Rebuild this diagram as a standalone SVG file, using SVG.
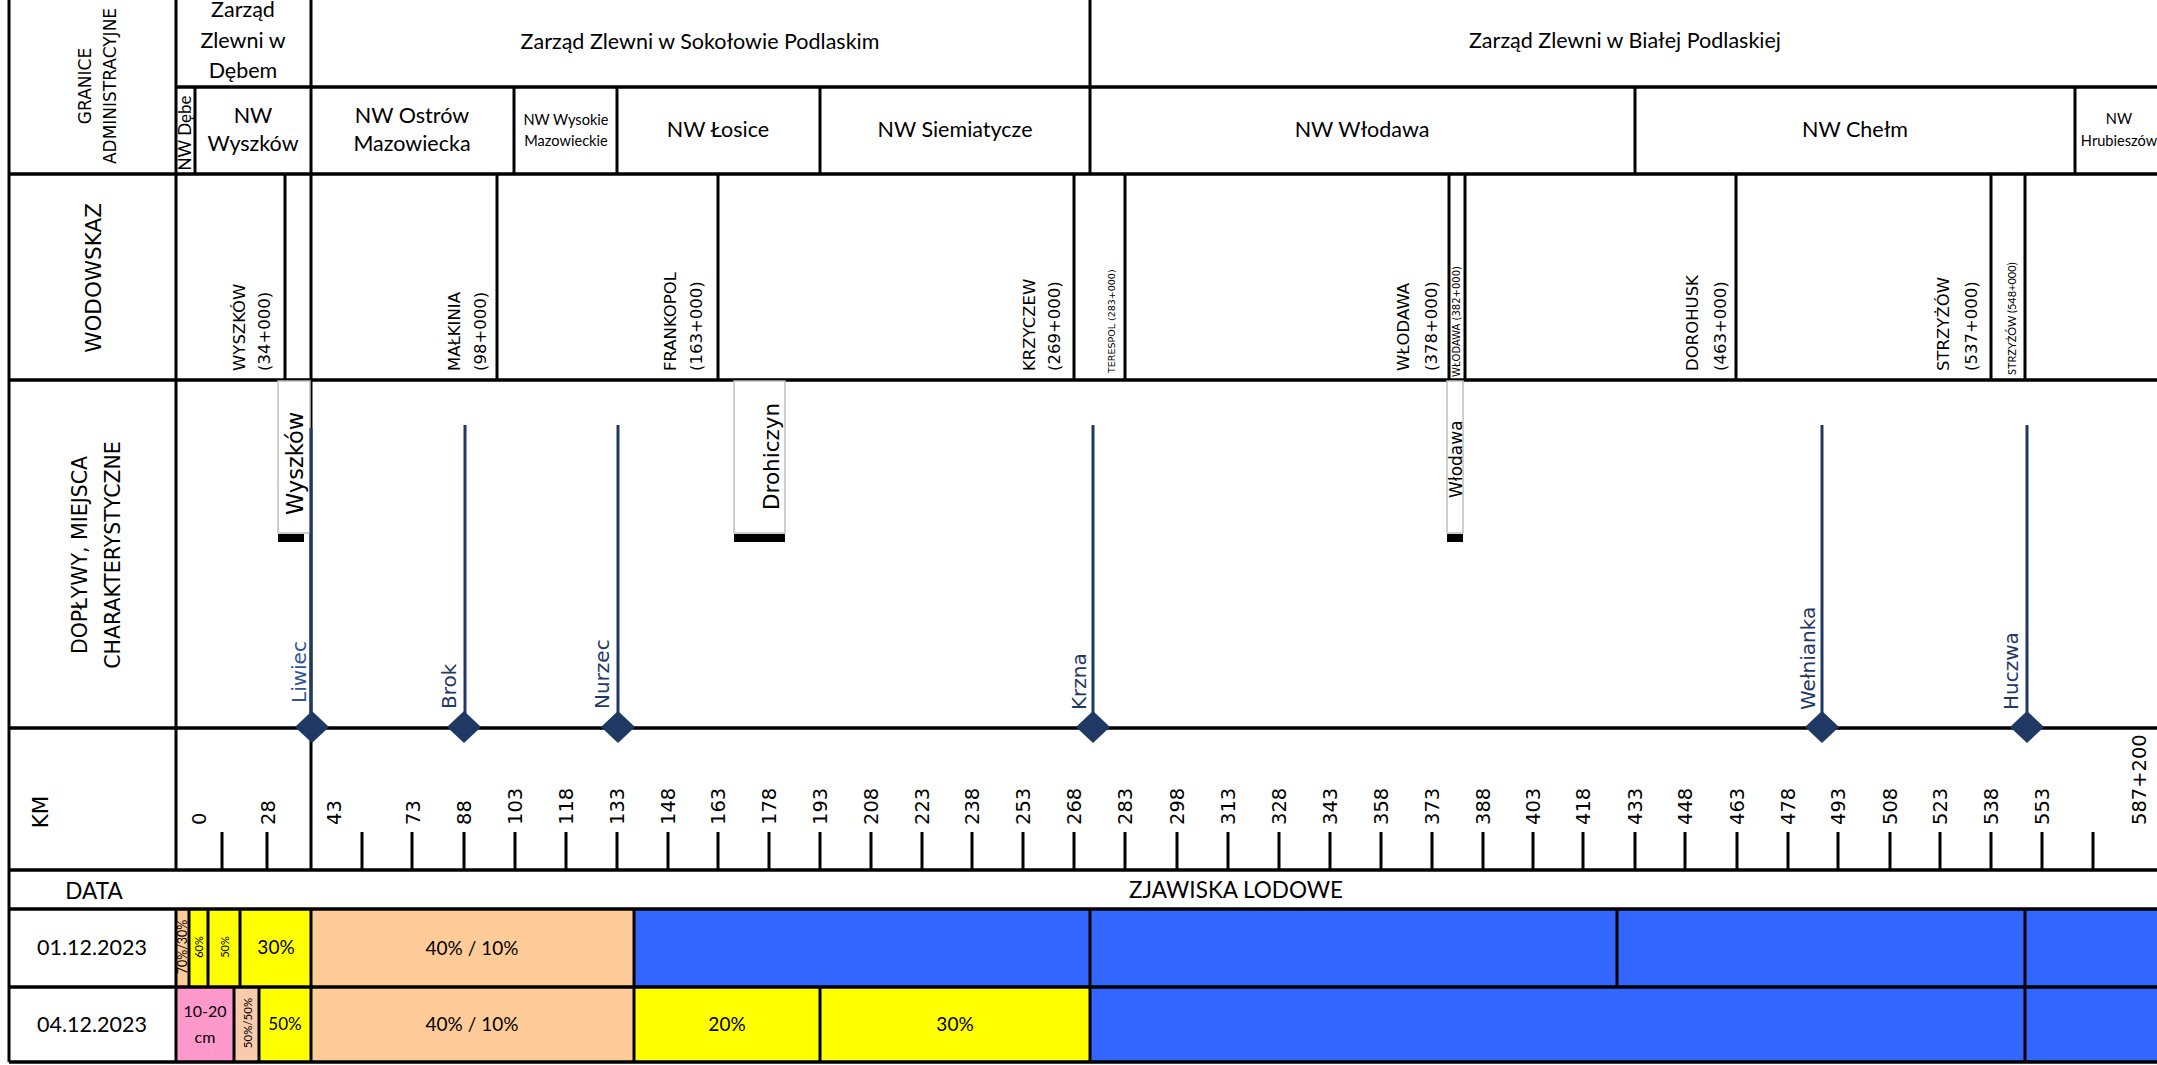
<svg xmlns="http://www.w3.org/2000/svg" width="2157" height="1065" viewBox="0 0 2157 1065">
<style>
.c{font-family:Lato,"Liberation Sans",sans-serif;font-size:21.5px;fill:#000;text-anchor:middle}
.cs{font-family:Lato,"Liberation Sans",sans-serif;font-size:14.6px;fill:#000;text-anchor:middle}
.p{font-family:Lato,"Liberation Sans",sans-serif;font-size:19px;fill:#000;text-anchor:middle}
.v{font-family:"DejaVu Sans",Verdana,sans-serif;fill:#000}
.w{font-family:"DejaVu Sans",Verdana,sans-serif;font-size:16.5px;fill:#000}
.km{font-family:"DejaVu Sans",Verdana,sans-serif;font-size:19.5px;fill:#000}
.tl{font-family:"DejaVu Sans",Verdana,sans-serif;font-size:20px;fill:#1F3864}
.h{stroke:#000;stroke-width:3.6;fill:none}
.vl{stroke:#000;stroke-width:3;fill:none}
.trib{stroke:#1F3864;stroke-width:3;fill:none}
.dia{fill:#1F3864}
.box{fill:#fff;stroke:#BFBFBF;stroke-width:1.5}
.bar{fill:#000}
.y{fill:#FFFF00}.o{fill:#FFCC99}.b{fill:#3366FF}.pk{fill:#FF99CC}.pe{fill:#F8CBAD}
</style>

<!-- fills of data rows -->
<g id="row-01-12-2023">
<rect class="o" x="176" y="909" width="13" height="78"/>
<rect class="y" x="189" y="909" width="19" height="78"/>
<rect class="y" x="208" y="909" width="32" height="78"/>
<rect class="y" x="240" y="909" width="71" height="78"/>
<rect class="o" x="311" y="909" width="323" height="78"/>
<rect class="b" x="634" y="909" width="1527" height="78"/>
</g>
<g id="row-04-12-2023">
<rect class="pk" x="176" y="987" width="58" height="75"/>
<rect class="pe" x="234" y="987" width="25" height="75"/>
<rect class="y" x="259" y="987" width="52" height="75"/>
<rect class="o" x="311" y="987" width="323" height="75"/>
<rect class="y" x="634" y="987" width="186" height="75"/>
<rect class="y" x="820" y="987" width="270" height="75"/>
<rect class="b" x="1090" y="987" width="1071" height="75"/>
</g>

<!-- grid -->
<g id="grid">
<path class="h" d="M176 87H2161 M9 174H2161 M9 380H2161 M9 728H2161 M9 870H2161 M9 909H2161 M9 987H2161 M9 1062H2161"/>
<path class="vl" d="M9 0V1062 M176 0V870 M176 909V1062 M311 0V870
M1090 0V174
M195 87V174 M514 87V174 M617 87V174 M820 87V174 M1635 87V174 M2075 87V174
M285 174V380 M497 174V380 M718 174V380 M1074 174V380 M1125 174V380 M1449 174V380 M1465 174V380 M1736 174V380 M1991 174V380 M2025 174V380
M189 909V987 M208 909V987 M240 909V987 M311 909V987 M634 909V987 M1090 909V987 M1617 909V987 M2025 909V987
M234 987V1062 M259 987V1062 M311 987V1062 M634 987V1062 M820 987V1062 M1090 987V1062 M2025 987V1062"/>
<path class="vl" d="M222 832V870 M267 832V870 M362 832V870 M412 832V870 M464 832V870 M515 832V870 M566 832V870 M617 832V870 M668 832V870 M718 832V870 M769 832V870 M820 832V870 M871 832V870 M922 832V870 M972 832V870 M1023 832V870 M1074 832V870 M1125 832V870 M1177 832V870 M1228 832V870 M1279 832V870 M1330 832V870 M1381 832V870 M1432 832V870 M1483 832V870 M1533 832V870 M1583 832V870 M1635 832V870 M1685 832V870 M1737 832V870 M1788 832V870 M1838 832V870 M1890 832V870 M1940 832V870 M1991 832V870 M2042 832V870 M2093 832V870"/>
</g>

<!-- row labels -->
<g id="labels">
<text class="v" font-size="17" text-anchor="middle" transform="translate(91,86) rotate(-90)">GRANICE</text>
<text class="v" font-size="17" text-anchor="middle" transform="translate(116,86) rotate(-90)">ADMINISTRACYJNE</text>
<text class="v" font-size="21.5" text-anchor="middle" transform="translate(101,278) rotate(-90)">WODOWSKAZ</text>
<text class="v" font-size="20.5" text-anchor="middle" transform="translate(87,555) rotate(-90)">DOPŁYWY, MIEJSCA</text>
<text class="v" font-size="20.5" text-anchor="middle" transform="translate(120,555) rotate(-90)">CHARAKTERYSTYCZNE</text>
<text class="v" font-size="21.5" text-anchor="middle" transform="translate(48,812) rotate(-90)">KM</text>
<text class="c" x="94" y="899" style="font-size:22.5px">DATA</text>
<text class="c" x="1236" y="898" style="font-size:22.5px">ZJAWISKA LODOWE</text>
<text class="c" x="92" y="955">01.12.2023</text>
<text class="c" x="92" y="1032">04.12.2023</text>
</g>

<!-- administrative boundaries -->
<g id="zarzady">
<text class="c" x="243" y="17">Zarząd</text>
<text class="c" x="243" y="47.5">Zlewni w</text>
<text class="c" x="243" y="78">Dębem</text>
<text class="c" x="700" y="49">Zarząd Zlewni w Sokołowie Podlaskim</text>
<text class="c" x="1625" y="48">Zarząd Zlewni w Białej Podlaskiej</text>
</g>
<g id="nadzory">
<text class="c" style="font-size:17px" transform="translate(191,133) rotate(-90)">NW Dębe</text>
<text class="c" x="253" y="123">NW</text>
<text class="c" x="253" y="151">Wyszków</text>
<text class="c" x="412" y="123">NW Ostrów</text>
<text class="c" x="412" y="151">Mazowiecka</text>
<text class="cs" x="566" y="125">NW Wysokie</text>
<text class="cs" x="566" y="146">Mazowieckie</text>
<text class="c" x="718" y="137">NW Łosice</text>
<text class="c" x="955" y="137">NW Siemiatycze</text>
<text class="c" x="1362" y="137">NW Włodawa</text>
<text class="c" x="1855" y="137">NW Chełm</text>
<text class="cs" x="2119" y="124">NW</text>
<text class="cs" x="2119" y="146">Hrubieszów</text>
</g>

<!-- gauges -->
<g id="wodowskazy">
<text class="w" transform="translate(245,371) rotate(-90)">WYSZKÓW</text>
<text class="w" transform="translate(270,371) rotate(-90)">(34+000)</text>
<text class="w" transform="translate(460,371) rotate(-90)">MAŁKINIA</text>
<text class="w" transform="translate(486,371) rotate(-90)">(98+000)</text>
<text class="w" transform="translate(676,371) rotate(-90)">FRANKOPOL</text>
<text class="w" transform="translate(702,371) rotate(-90)">(163+000)</text>
<text class="w" transform="translate(1035,371) rotate(-90)">KRZYCZEW</text>
<text class="w" transform="translate(1060,371) rotate(-90)">(269+000)</text>
<text class="v" font-size="9.5" transform="translate(1115,373) rotate(-90)">TERESPOL (283+000)</text>
<text class="w" transform="translate(1409,371) rotate(-90)">WŁODAWA</text>
<text class="w" transform="translate(1437,371) rotate(-90)">(378+000)</text>
<text class="v" font-size="10" transform="translate(1460,377) rotate(-90)">WŁODAWA (382+000)</text>
<text class="w" transform="translate(1698,371) rotate(-90)">DOROHUSK</text>
<text class="w" transform="translate(1726,371) rotate(-90)">(463+000)</text>
<text class="w" transform="translate(1949,371) rotate(-90)">STRZYŻÓW</text>
<text class="w" transform="translate(1977,371) rotate(-90)">(537+000)</text>
<text class="c" style="font-size:11px;text-anchor:start" transform="translate(2016,375) rotate(-90)">STRZYŻÓW (548+000)</text>
</g>

<!-- characteristic places -->
<g id="miejsce-wyszkow">
<rect class="box" x="278" y="381" width="32" height="152"/>
<rect class="bar" x="278" y="534" width="26" height="8"/>
<text class="v" font-size="22.5" transform="translate(303,515) rotate(-90)">Wyszków</text>
</g>
<g id="miejsce-drohiczyn">
<rect class="box" x="734" y="381" width="51" height="152"/>
<rect class="bar" x="734" y="534" width="51" height="8"/>
<text class="v" font-size="21.5" transform="translate(779,510) rotate(-90)">Drohiczyn</text>
</g>
<g id="miejsce-wlodawa">
<rect class="box" x="1447" y="381" width="16" height="152"/>
<rect class="bar" x="1447" y="534" width="16" height="8"/>
<text class="v" font-size="17" transform="translate(1462,498) rotate(-90)">Włodawa</text>
</g>

<!-- tributaries (connectors) -->
<g id="connectors">
<path class="trib" d="M311 428V727 M465 425V727 M618 425V727 M1093 425V727 M1822 425V727 M2027 425V727"/>
</g>
<g id="doplyw-liwiec">
<path class="dia" d="M312 711L329 727L312 743L295 727Z"/>
<text class="tl" style="fill:#2F5597" transform="translate(306,703) rotate(-90)">Liwiec</text>
</g>
<g id="doplyw-brok">
<path class="dia" d="M464 711L481 727L464 743L447 727Z"/>
<text class="tl" transform="translate(456,709) rotate(-90)">Brok</text>
</g>
<g id="doplyw-nurzec">
<path class="dia" d="M618 711L635 727L618 743L601 727Z"/>
<text class="tl" transform="translate(609,709) rotate(-90)">Nurzec</text>
</g>
<g id="doplyw-krzna">
<path class="dia" d="M1093 711L1110 727L1093 743L1076 727Z"/>
<text class="tl" transform="translate(1086,710) rotate(-90)">Krzna</text>
</g>
<g id="doplyw-welnianka">
<path class="dia" d="M1822 711L1839 727L1822 743L1805 727Z"/>
<text class="tl" transform="translate(1815,710) rotate(-90)">Wełnianka</text>
</g>
<g id="doplyw-huczwa">
<path class="dia" d="M2027 711L2044 727L2027 743L2010 727Z"/>
<text class="tl" transform="translate(2018,710) rotate(-90)">Huczwa</text>
</g>

<!-- km labels -->
<g id="km">
<text class="km" transform="translate(206,825) rotate(-90)">0</text>
<text class="km" transform="translate(275,825) rotate(-90)">28</text>
<text class="km" transform="translate(341,825) rotate(-90)">43</text>
<text class="km" transform="translate(420,825) rotate(-90)">73</text>
<text class="km" transform="translate(471,825) rotate(-90)">88</text>
<text class="km" transform="translate(522,825) rotate(-90)">103</text>
<text class="km" transform="translate(573,825) rotate(-90)">118</text>
<text class="km" transform="translate(624,825) rotate(-90)">133</text>
<text class="km" transform="translate(675,825) rotate(-90)">148</text>
<text class="km" transform="translate(725,825) rotate(-90)">163</text>
<text class="km" transform="translate(776,825) rotate(-90)">178</text>
<text class="km" transform="translate(827,825) rotate(-90)">193</text>
<text class="km" transform="translate(878,825) rotate(-90)">208</text>
<text class="km" transform="translate(929,825) rotate(-90)">223</text>
<text class="km" transform="translate(979,825) rotate(-90)">238</text>
<text class="km" transform="translate(1030,825) rotate(-90)">253</text>
<text class="km" transform="translate(1081,825) rotate(-90)">268</text>
<text class="km" transform="translate(1132,825) rotate(-90)">283</text>
<text class="km" transform="translate(1184,825) rotate(-90)">298</text>
<text class="km" transform="translate(1235,825) rotate(-90)">313</text>
<text class="km" transform="translate(1286,825) rotate(-90)">328</text>
<text class="km" transform="translate(1337,825) rotate(-90)">343</text>
<text class="km" transform="translate(1388,825) rotate(-90)">358</text>
<text class="km" transform="translate(1439,825) rotate(-90)">373</text>
<text class="km" transform="translate(1490,825) rotate(-90)">388</text>
<text class="km" transform="translate(1540,825) rotate(-90)">403</text>
<text class="km" transform="translate(1590,825) rotate(-90)">418</text>
<text class="km" transform="translate(1642,825) rotate(-90)">433</text>
<text class="km" transform="translate(1692,825) rotate(-90)">448</text>
<text class="km" transform="translate(1744,825) rotate(-90)">463</text>
<text class="km" transform="translate(1795,825) rotate(-90)">478</text>
<text class="km" transform="translate(1845,825) rotate(-90)">493</text>
<text class="km" transform="translate(1897,825) rotate(-90)">508</text>
<text class="km" transform="translate(1947,825) rotate(-90)">523</text>
<text class="km" transform="translate(1998,825) rotate(-90)">538</text>
<text class="km" transform="translate(2049,825) rotate(-90)">553</text>
<text class="km" transform="translate(2146,825) rotate(-90)">587+200</text>
</g>

<!-- ice phenomena values -->
<g id="values">
<text class="c" style="font-size:12.5px" transform="translate(187,947) rotate(-90)">70%/30%</text>
<text class="c" style="font-size:11px" transform="translate(203,947) rotate(-90)">60%</text>
<text class="c" style="font-size:11px" transform="translate(229,947) rotate(-90)">50%</text>
<text class="p" x="276" y="954">30%</text>
<text class="p" x="472" y="955">40% / 10%</text>
<text class="c" x="205" y="1017" style="font-size:16px">10-20</text>
<text class="c" x="205" y="1043" style="font-size:16px">cm</text>
<text class="c" style="font-size:11.5px" transform="translate(252,1023) rotate(-90)">50%/50%</text>
<text class="p" x="285" y="1030" style="font-size:17px">50%</text>
<text class="p" x="472" y="1031">40% / 10%</text>
<text class="p" x="727" y="1031">20%</text>
<text class="p" x="955" y="1031">30%</text>
</g>
</svg>
